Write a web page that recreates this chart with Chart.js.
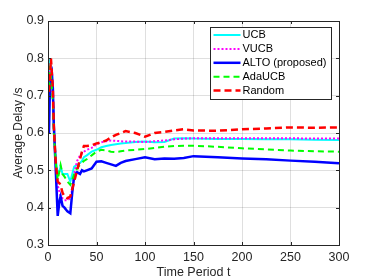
<!DOCTYPE html>
<html>
<head>
<meta charset="utf-8">
<script src="https://cdn.jsdelivr.net/npm/chart.js@4"></script>
<style>
html, body { margin: 0; padding: 0; background: #fff; }
</style>
</head>
<body>
<canvas id="graficoAtraso" width="374" height="280"></canvas>
<script>
// Time periods (shared by all series)
var periodos = [1, 2, 3, 4, 5, 6, 8, 10, 12, 13, 15, 17, 20, 23, 25, 27, 30, 33, 35, 37, 40, 45, 50, 55, 60, 65, 70, 75, 80, 90, 100, 110, 120, 130, 140, 150, 175, 200, 225, 250, 275, 300];

var ucb     = [0.72, 0.80, 0.78, 0.74, 0.70, 0.62, 0.53, 0.49, 0.50, 0.51, 0.49, 0.49, 0.49, 0.47, 0.49, 0.51, 0.515, 0.52, 0.525, 0.535, 0.54, 0.55, 0.555, 0.562, 0.565, 0.568, 0.57, 0.572, 0.573, 0.576, 0.577, 0.575, 0.576, 0.585, 0.586, 0.585, 0.584, 0.584, 0.583, 0.583, 0.582, 0.581];
var vucb    = [0.75, 0.78, 0.76, 0.73, 0.70, 0.62, 0.52, 0.46, 0.44, 0.43, 0.425, 0.42, 0.42, 0.425, 0.45, 0.49, 0.525, 0.54, 0.545, 0.55, 0.555, 0.56, 0.57, 0.575, 0.578, 0.58, 0.579, 0.578, 0.577, 0.577, 0.576, 0.578, 0.58, 0.583, 0.585, 0.586, 0.586, 0.586, 0.586, 0.586, 0.585, 0.585];
var alto    = [0.60, 0.72, 0.75, 0.76, 0.72, 0.62, 0.50, 0.378, 0.42, 0.43, 0.405, 0.40, 0.39, 0.385, 0.44, 0.485, 0.495, 0.49, 0.50, 0.497, 0.50, 0.505, 0.523, 0.524, 0.52, 0.516, 0.512, 0.52, 0.525, 0.53, 0.535, 0.53, 0.532, 0.531, 0.533, 0.538, 0.535, 0.532, 0.53, 0.526, 0.523, 0.519];
var adaUcb  = [0.72, 0.78, 0.76, 0.72, 0.68, 0.60, 0.52, 0.475, 0.50, 0.514, 0.49, 0.483, 0.47, 0.461, 0.475, 0.49, 0.505, 0.515, 0.52, 0.525, 0.53, 0.54, 0.55, 0.555, 0.553, 0.55, 0.549, 0.551, 0.553, 0.555, 0.557, 0.56, 0.563, 0.565, 0.566, 0.566, 0.563, 0.559, 0.556, 0.553, 0.551, 0.55];
var aleatorio = [0.71, 0.74, 0.80, 0.76, 0.72, 0.62, 0.52, 0.47, 0.465, 0.46, 0.44, 0.43, 0.425, 0.43, 0.45, 0.47, 0.50, 0.53, 0.55, 0.565, 0.565, 0.567, 0.572, 0.575, 0.58, 0.588, 0.595, 0.60, 0.605, 0.60, 0.59, 0.60, 0.603, 0.607, 0.61, 0.607, 0.606, 0.61, 0.612, 0.615, 0.614, 0.615];

var ticksX = [0, 50, 100, 150, 200, 250, 300];
var ticksY = [0.3, 0.4, 0.5, 0.6, 0.7, 0.8, 0.9];

var corEixo = '#262626';
var corGrade = 'rgba(38, 38, 38, 0.15)';
var fonte = '"Liberation Sans", Arial, sans-serif';

function pontos(valores) {
    return periodos.map(function (t, i) { return { x: t, y: valores[i] }; });
}

// Legend drawn inside the plot, like the MATLAB figure
var legendaDentro = {
    id: 'legendaDentro',
    afterDraw: function (chart) {
        var ctx = chart.ctx;
        var area = chart.chartArea;
        var bw = 121, bh = 72;
        var bx = Math.round(area.right - 8 - bw) + 0.5;
        var by = Math.round(area.top + 6) + 0.5;
        ctx.save();
        ctx.fillStyle = '#fff';
        ctx.fillRect(bx, by, bw, bh);
        ctx.strokeStyle = corEixo;
        ctx.lineWidth = 1;
        ctx.strokeRect(bx, by, bw, bh);
        ctx.font = '11px ' + fonte;
        ctx.textBaseline = 'middle';
        chart.data.datasets.forEach(function (ds, i) {
            var y = by + 7.5 + i * 13.9;
            ctx.beginPath();
            ctx.strokeStyle = ds.borderColor;
            ctx.lineWidth = ds.borderWidth;
            ctx.setLineDash(ds.borderDash || []);
            ctx.moveTo(bx + 3, y);
            ctx.lineTo(bx + 30, y);
            ctx.stroke();
            ctx.setLineDash([]);
            ctx.fillStyle = '#000';
            ctx.fillText(ds.label, bx + 32, y);
        });
        ctx.restore();
    }
};

// Box around the axes plus small inward ticks
var caixaEixos = {
    id: 'caixaEixos',
    afterDatasetsDraw: function (chart) {
        var ctx = chart.ctx;
        var a = chart.chartArea;
        var sx = chart.scales.x, sy = chart.scales.y;
        ctx.save();
        ctx.strokeStyle = corEixo;
        ctx.lineWidth = 1;
        ctx.strokeRect(Math.round(a.left) + 0.5, Math.round(a.top) + 0.5, Math.round(a.right - a.left), Math.round(a.bottom - a.top));
        ctx.beginPath();
        ticksX.forEach(function (v) {
            var px = Math.round(sx.getPixelForValue(v)) + 0.5;
            ctx.moveTo(px, a.bottom); ctx.lineTo(px, a.bottom - 3);
            ctx.moveTo(px, a.top); ctx.lineTo(px, a.top + 3);
        });
        ticksY.forEach(function (v) {
            var py = Math.round(sy.getPixelForValue(v)) + 0.5;
            ctx.moveTo(a.left, py); ctx.lineTo(a.left + 3, py);
            ctx.moveTo(a.right, py); ctx.lineTo(a.right - 3, py);
        });
        ctx.stroke();
        ctx.restore();
    }
};

var ctxAtraso = document.getElementById('graficoAtraso').getContext('2d');
new Chart(ctxAtraso, {
    type: 'line',
    data: {
        datasets: [
            { label: 'UCB', data: pontos(ucb), borderColor: '#00ffff', borderWidth: 2, order: 4 },
            { label: 'VUCB', data: pontos(vucb), borderColor: '#ff00ff', borderWidth: 2, borderDash: [2, 2], order: 3 },
            { label: 'ALTO (proposed)', data: pontos(alto), borderColor: '#0000ff', borderWidth: 2.5, order: 2 },
            { label: 'AdaUCB', data: pontos(adaUcb), borderColor: '#00ff00', borderWidth: 2, borderDash: [6, 4], order: 1 },
            { label: 'Random', data: pontos(aleatorio), borderColor: '#ff0000', borderWidth: 2.5, borderDash: [7, 4], order: 0 }
        ]
    },
    options: {
        responsive: false,
        animation: false,
        layout: { padding: { top: 21, right: 35, left: 0, bottom: 0 } },
        elements: { point: { radius: 0 }, line: { tension: 0, fill: false } },
        plugins: { legend: { display: false }, tooltip: { enabled: false } },
        scales: {
            x: {
                type: 'linear',
                min: 0,
                max: 300,
                afterBuildTicks: function (s) { s.ticks = ticksX.map(function (v) { return { value: v }; }); },
                afterFit: function (s) { s.height = 35; },
                ticks: { font: { size: 12.5, family: fonte }, color: corEixo, padding: 5, maxRotation: 0 },
                grid: { color: corGrade, drawTicks: false },
                border: { color: corEixo },
                title: { display: true, text: 'Time Period t', font: { size: 12.5, family: fonte }, color: corEixo, padding: { top: 0, bottom: 0 } }
            },
            y: {
                min: 0.3,
                max: 0.9,
                afterBuildTicks: function (s) { s.ticks = ticksY.map(function (v) { return { value: v }; }); },
                afterFit: function (s) { s.width = 48; },
                ticks: { font: { size: 12.5, family: fonte }, color: corEixo, padding: 4, callback: function (v) { return v.toFixed(1); } },
                grid: { color: corGrade, drawTicks: false },
                border: { color: corEixo },
                title: { display: true, text: 'Average Delay /s', font: { size: 12, family: fonte }, color: corEixo, padding: { top: 11, bottom: 0 } }
            }
        }
    },
    plugins: [caixaEixos, legendaDentro]
});
</script>
</body>
</html>
